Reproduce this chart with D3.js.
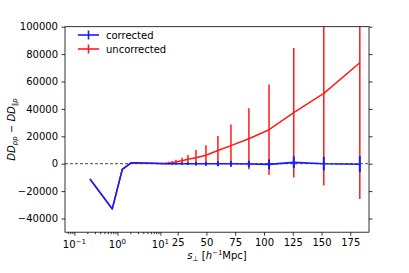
<!DOCTYPE html>
<html><head><meta charset="utf-8">
<script src="https://cdn.jsdelivr.net/npm/d3@7"></script>
<style>
body{margin:0;background:#fff}
text{font-family:"DejaVu Sans",sans-serif}
</style></head>
<body><svg id="c" width="409" height="273"></svg>
<script>
// ---- data ----
const sPerp = [0.23, 0.76, 1.3, 2.1, 14.8, 17.4, 20.1, 23.5, 28.7, 33.9, 40.9, 49.6, 60.0, 71.3, 86.9, 104.4, 125.9, 152.0, 183.3];
const corrected = [-11200, -33000, -4100, 700, 0, 0, 0, 0, 0, 0, 0, 0, 0, 0, -200, -500, 1000, 0, -400];
const correctedErr = [0, 0, 0, 0, 300, 400, 500, 600, 800, 1000, 1300, 1500, 1800, 2000, 2400, 3500, 4400, 5000, 5800];
const uncorrected = [-11200, -33000, -4100, 700, 200, 500, 700, 1200, 2200, 3200, 4400, 6200, 9600, 13200, 18200, 24800, 37200, 51300, 73700];
const uncorrectedErr = [0, 0, 0, 0, 600, 900, 1200, 1600, 2200, 3100, 5600, 7300, 10700, 15500, 22200, 33100, 47200, 67300, 99500];
const xLogTicks = [0.1, 1, 10];
const xLogExp = ["−1", "0", "1"];
const xLinTicks = [25, 50, 75, 100, 125, 150, 175];
const yTicks = [-40000, -20000, 0, 20000, 40000, 60000, 80000, 100000];
const seriesNames = ["corrected", "uncorrected"];

// ---- layout ----
const L = 65, R = 369, T = 26.7, B = 232.2, P10 = 160.4;
const svg = d3.select("#c");

const xLog = d3.scaleLog().domain([Math.pow(10, 1 - (P10 - L) / 43), 10]).range([L, P10]);
const xLin = d3.scaleLinear().domain([10, 10 + (R - P10) / 1.1507]).range([P10, R]);
const x = v => v <= 10 ? xLog(v) : xLin(v);
const y = d3.scaleLinear().domain([-50000, 100000]).range([B, T]);

svg.append("defs").append("clipPath").attr("id", "clip")
  .append("rect").attr("x", L).attr("y", T).attr("width", R - L).attr("height", B - T);

const plot = svg.append("g").attr("clip-path", "url(#clip)");

// zero dashed line
plot.append("line").attr("x1", L).attr("x2", R).attr("y1", y(0)).attr("y2", y(0))
  .attr("stroke", "#333").attr("stroke-width", 0.9).attr("stroke-dasharray", "3,2");

function drawSeries(vals, errs, color, lw, elw) {
  const pts = sPerp.map((s, i) => [x(s), y(vals[i]), errs[i], vals[i]]);
  plot.append("path").attr("d", d3.line()(pts.map(p => [p[0], p[1]])))
    .attr("fill", "none").attr("stroke", color).attr("stroke-width", lw).attr("stroke-linejoin", "round");
  plot.selectAll(null).data(pts.filter(p => p[2] > 0)).enter().append("line")
    .attr("x1", p => p[0]).attr("x2", p => p[0])
    .attr("y1", p => y(p[3] - p[2])).attr("y2", p => y(p[3] + p[2]))
    .attr("stroke", color).attr("stroke-width", elw);
}
drawSeries(uncorrected, uncorrectedErr, "#ff1a1a", 1.5, 1.5);
drawSeries(corrected, correctedErr, "#1a1aff", 1.6, 2);

// axes
const axB1 = svg.append("g").attr("transform", `translate(0,${B})`)
  .call(d3.axisBottom(xLog).tickValues(xLogTicks).tickSize(3.5).tickPadding(3.5).tickFormat(""));
const minor = [];
[0.01, 0.1, 1].forEach(d => { for (let k = 2; k <= 9; k++) { const v = d * k; if (v >= xLog.domain()[0] && v < 10) minor.push(v); } });
svg.append("g").attr("transform", `translate(0,${B})`)
  .call(d3.axisBottom(xLog).tickValues(minor).tickSize(2).tickFormat(""));
svg.append("g").attr("transform", `translate(0,${B})`)
  .call(d3.axisBottom(xLin).tickValues(xLinTicks).tickSize(3.5).tickPadding(3.5).tickFormat(d3.format("d")));
svg.append("g").attr("transform", `translate(${L},0)`)
  .call(d3.axisLeft(y).tickValues(yTicks).tickSize(3.5).tickPadding(3.5).tickFormat(d => d < 0 ? "−" + Math.abs(d) : String(d)));
svg.append("g").attr("transform", `translate(${R},0)`)
  .call(d3.axisRight(y).tickValues(yTicks).tickSize(3.5).tickFormat(""));

svg.selectAll(".domain").remove();
svg.selectAll(".tick line").attr("stroke", "#000").attr("stroke-width", 0.8);
svg.selectAll(".tick text").attr("font-size", 10).attr("fill", "#000").attr("font-family", "DejaVu Sans");

// log tick labels with superscripts
xLogTicks.forEach((t, i) => {
  const tx = svg.append("text").attr("x", xLog(t)).attr("y", B + 16).attr("text-anchor", "middle")
    .attr("font-size", 10).attr("fill", "#000");
  tx.append("tspan").text("10");
  tx.append("tspan").attr("font-size", 7).attr("dy", -4).text(xLogExp[i]);
});

// frame
svg.append("rect").attr("x", L).attr("y", T).attr("width", R - L).attr("height", B - T)
  .attr("fill", "none").attr("stroke", "#000").attr("stroke-width", 0.8);

// x label
const xl = svg.append("text").attr("x", (L + R) / 2).attr("y", 259).attr("text-anchor", "middle")
  .attr("font-size", 10).attr("fill", "#000");
xl.append("tspan").attr("font-style", "italic").text("s");
xl.append("tspan").attr("font-size", 7).attr("dy", 2).text("⊥");
xl.append("tspan").attr("dy", -2).text(" [");
xl.append("tspan").attr("font-style", "italic").text("h");
xl.append("tspan").attr("font-size", 7).attr("dy", -4).text("−1");
xl.append("tspan").attr("dy", 4).text("Mpc]");

// y label
const yl = svg.append("text").attr("transform", `translate(15,${(T + B) / 2}) rotate(-90)`)
  .attr("text-anchor", "middle").attr("font-size", 10).attr("fill", "#000");
yl.append("tspan").attr("font-style", "italic").text("DD");
yl.append("tspan").attr("font-style", "italic").attr("font-size", 7).attr("dy", 2).text("pp");
yl.append("tspan").attr("dy", -2).text(" − ");
yl.append("tspan").attr("font-style", "italic").text("DD");
yl.append("tspan").attr("font-style", "italic").attr("font-size", 7).attr("dy", 2).text("∥p");

// legend
const legColors = ["#1a1aff", "#ff1a1a"];
seriesNames.forEach((n, i) => {
  const gy = 35 + i * 14;
  const g = svg.append("g");
  g.append("line").attr("x1", 78).attr("x2", 99).attr("y1", gy).attr("y2", gy)
    .attr("stroke", legColors[i]).attr("stroke-width", 1.6);
  g.append("line").attr("x1", 88.5).attr("x2", 88.5).attr("y1", gy - 4.5).attr("y2", gy + 4.5)
    .attr("stroke", legColors[i]).attr("stroke-width", 1.6);
  g.append("text").attr("x", 106).attr("y", gy + 3.6).attr("font-size", 10).attr("fill", "#000").text(n);
});
</script></body></html>
